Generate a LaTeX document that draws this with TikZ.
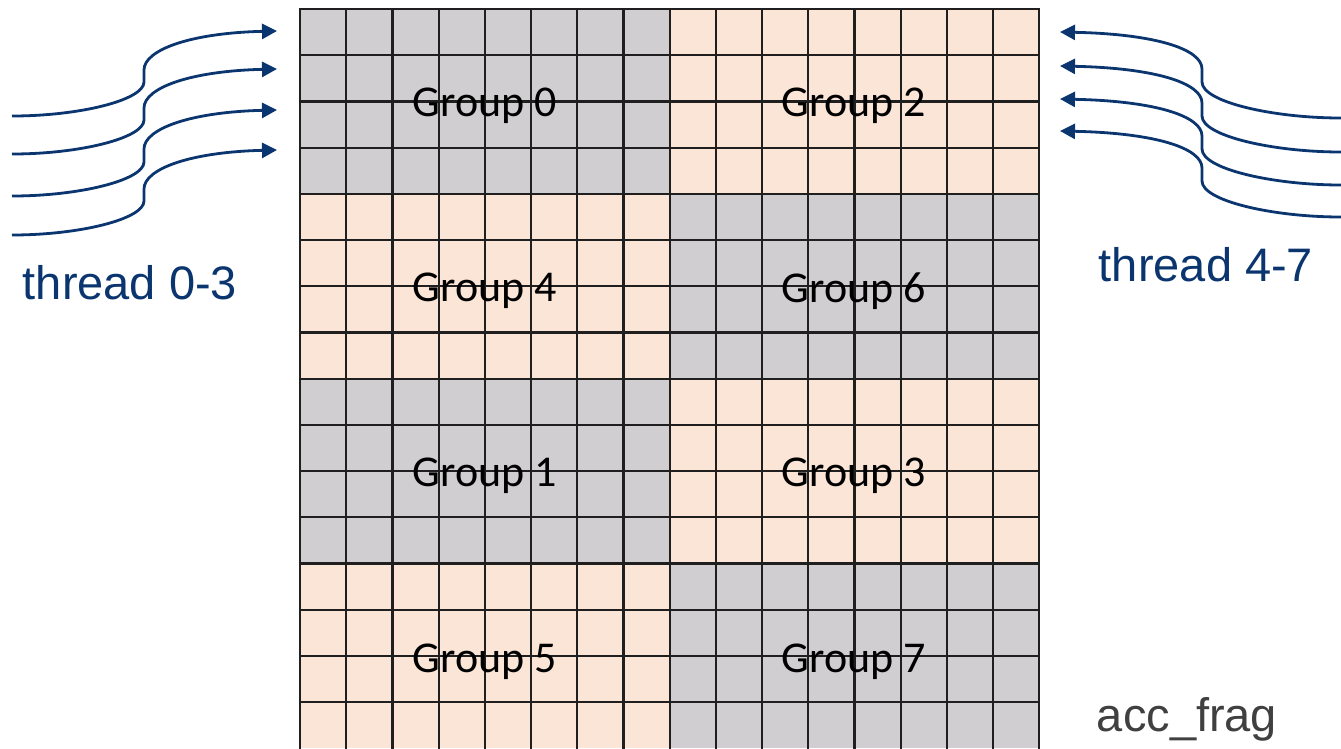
\documentclass[tikz,border=0pt]{standalone}
\usepackage{fontspec}
\newfontfamily\calfont{Carlito}
\newfontfamily\arialfont{Liberation Sans}
\usetikzlibrary{arrows.meta}
\definecolor{cgrey}{HTML}{D0CED0}
\definecolor{cpeach}{HTML}{FBE5D6}
\definecolor{cblue}{HTML}{0B356F}
\definecolor{cdark}{HTML}{404040}
\tikzset{
  grouplabel/.style={font=\calfont\fontsize{44}{44}\selectfont, text=black, inner sep=0pt},
  threadlabel/.style={font=\arialfont\fontsize{47}{47}\selectfont, text=cblue, inner sep=0pt},
  acclabel/.style={font=\arialfont\fontsize{47}{47}\selectfont, text=cdark, inner sep=0pt},
  thread/.style={draw=cblue, line width=2.8pt, -{Triangle[length=15pt,width=15pt]}},
  gridline/.style={draw=black!88, line width=2.2pt},
}
\begin{document}
\begin{tikzpicture}[x=1pt,y=-1pt]
\useasboundingbox (0,0) rectangle (1341,748);
\def\cw{46.2}
\begin{scope}
\clip (0,0) rectangle (1341,748);
% fills
\foreach \r/\lc/\rc in {0/cgrey/cpeach,1/cpeach/cgrey,2/cgrey/cpeach,3/cpeach/cgrey}{
  \fill[\lc] (300,{9+\r*4*\cw}) rectangle ({300+8*\cw},{9+(\r+1)*4*\cw});
  \fill[\rc] ({300+8*\cw},{9+\r*4*\cw}) rectangle ({300+16*\cw},{9+(\r+1)*4*\cw});
}
% grid lines
\foreach \i in {0,...,16}{
  \draw[gridline] ({300+\i*\cw},9) -- ({300+\i*\cw},760);
}
\foreach \j in {0,...,15}{
  \draw[gridline] (298.9,{9+\j*\cw}) -- ({300+16*\cw+1.1},{9+\j*\cw});
}
\end{scope}
% group labels
\node[grouplabel] (g0) at (485,106) {Group 0};
\node[grouplabel] (g2) at (854,106) {Group 2};
\node[grouplabel] (g4) at (485,291) {Group 4};
\node[grouplabel] (g6) at (854,291) {Group 6};
\node[grouplabel] (g1) at (485,476) {Group 1};
\node[grouplabel] (g3) at (854,476) {Group 3};
\node[grouplabel] (g5) at (485,662) {Group 5};
\node[grouplabel] (g7) at (854,662) {Group 7};
% text labels
\node[threadlabel] (tl) at (130,283) {thread 0-3};
\node[threadlabel] (tr) at (1206,265) {thread 4-7};
\node[acclabel] (acc) at (1187,719) {acc\_frag};
% left arrows
\foreach \k/\s/\e in {0/116/31,1/154/69,2/196/110,3/235/150}{
  \coordinate (ls\k) at (12,\s);
  \coordinate (le\k) at (277,\e);
  \draw[thread] (ls\k) .. controls (80,\s) and (144,{\s-16}) .. (144,{\s-34})
     -- (144,{\e+39}) .. controls (144,{\e+19}) and (190,{\e+2}) .. (le\k);
}
% right arrows
\foreach \k/\s/\e in {0/118/32,1/152/66,2/185/99,3/217/131}{
  \coordinate (rs\k) at (1341,\s);
  \coordinate (re\k) at (1060,\e);
  \draw[thread] (rs\k) .. controls (1273,\s) and (1202,{\s-16}) .. (1202,{\s-36})
     -- (1202,{\e+37}) .. controls (1202,{\e+17}) and (1155,{\e+2}) .. (re\k);
}
\end{tikzpicture}
\end{document}
